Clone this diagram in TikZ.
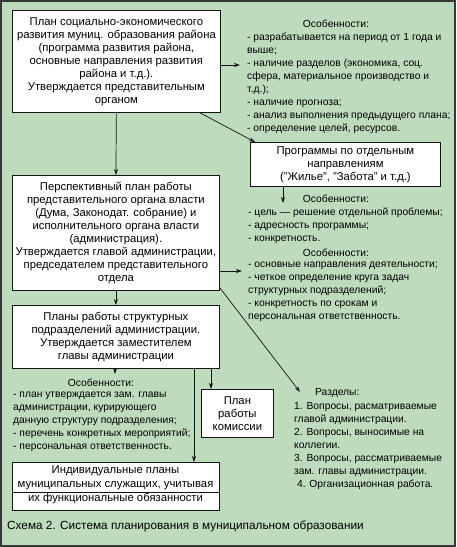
\documentclass[tikz,border=0pt]{standalone}
\usepackage{fontspec}
\setmainfont{Liberation Sans}
\usetikzlibrary{arrows.meta,calc}
\definecolor{bg}{RGB}{190,219,190}
\definecolor{ln}{RGB}{20,20,20}
\begin{document}
\begin{tikzpicture}[x=1pt,y=-1pt,
  box/.style={draw=ln,fill=white,line width=0.8pt,align=center,inner sep=0pt,
    font=\fontsize{11.3}{13}\selectfont,anchor=north west},
  note/.style={align=left,inner sep=0pt,font=\fontsize{10.3}{13}\selectfont,anchor=north west},
  head/.style={inner sep=0pt,font=\fontsize{10.3}{13}\selectfont,anchor=north},
  arr/.style={draw=ln,line width=0.7pt,-{Stealth[length=6pt,width=4pt]}},
  conn/.style={draw=ln,line width=0.7pt}]
\useasboundingbox (0,0) rectangle (456,547);
\draw[fill=bg,draw=ln!85,line width=2pt] (1,1) rectangle (455,546);

% boxes
\node[box,minimum width=208pt,minimum height=102pt] (b1) at (12,10)
 {План социально-экономического\\развития муниц. образования района\\(программа развития района,\\основные направления развития\\района и т.д.).\\Утверждается представительным\\органом};
\node[box,minimum width=190pt,minimum height=44pt] (prog) at (250,142)
 {Программы по отдельным\\направлениям\\("Жилье", "Забота" и т.д.)};
\node[box,minimum width=207pt,minimum height=115pt] (b2) at (12,175)
 {Перспективный план работы\\представительного органа власти\\(Дума, Законодат. собрание) и\\исполнительного органа власти\\(администрация).\\Утверждается главой администрации,\\председателем представительного\\отдела};
\node[box,minimum width=207pt,minimum height=63pt] (b3) at (12,305)
 {Планы работы структурных\\подразделений администрации.\\Утверждается заместителем\\главы администрации};
\node[box,minimum width=72pt,minimum height=48pt] (plan) at (201,389)
 {План\\работы\\комиссии};
\node[box,minimum width=207pt,minimum height=48pt] (b4) at (12,462) {};
\node[inner sep=0pt,font=\fontsize{11.3}{14}\selectfont,align=center,anchor=north] (b4t) at (115.5,465.5)
 {Индивидуальные планы\\муниципальных служащих, учитывая\\их функциональные обязанности};
\draw[conn] (b4.west |- 0,492) coordinate (b4l) -- (b4.east |- b4l);

% notes
\node[head] (h1) at (336,20) {Особенности:};
\node[note] (n1) at (247,33)
 {- разрабатывается на период от 1 года и\\выше;\\- наличие разделов (экономика, соц.\\сфера, материальное производство и\\т.д.);\\- наличие прогноза;\\- анализ выполнения предыдущего плана;\\- определение целей, ресурсов.};
\node[head] (h2) at (336,195) {Особенности:};
\node[note] (n2) at (248,208)
 {- цель — решение отдельной проблемы;\\- адресность программы;\\- конкретность.};
\node[head] (h3) at (336,249) {Особенности:};
\node[note] (n3) at (248,262)
 {- основные направления деятельности;\\- четкое определение круга задач\\структурных подразделений;\\- конкретность по срокам и\\персональная ответственность.};
\node[head] (h4) at (101,379) {Особенности:};
\node[note] (n4) at (13,392)
 {- план утверждается зам. главы\\администрации, курирующего\\данную структуру подразделения;\\- перечень конкретных мероприятий;\\- персональная ответственность.};
\node[note] (h5) at (315,388) {Разделы:};
\node[note] (n5) at (294,402)
 {1. Вопросы, расматриваемые\\главой администрации.\\2. Вопросы, выносимые на\\коллегии.\\3. Вопросы, рассматриваемые\\зам. главы администрации.\\\ 4. Организационная работа.};
\node[inner sep=0pt,anchor=north west,font=\fontsize{11.8}{13}\selectfont] (cap) at (7,521)
 {Схема 2. Система планирования в муниципальном образовании};

% connectors
\coordinate (f1) at (240,65);
\coordinate (f2) at (283,203);
\coordinate (f3) at (242,271);
\coordinate (f4) at (300,392);
\coordinate (f5) at (115,374);
\draw[arr] (b1.south) -- (b2.north);
\draw[arr] (b1.east |- f1) -- (f1);
\draw[arr] ([xshift=188pt]b1.south west) -- ([xshift=5pt]prog.north west);
\draw[arr] (prog.south -| f2) -- (f2);
\draw[arr] (b2.south) -- (b3.north);
\draw[arr] (b2.east |- f3) -- (f3);
\draw[arr] ([yshift=3pt]b2.south east) -- (f4);
\draw[arr] (b3.south -| f5) -- (f5);
\draw[arr] ([xshift=182pt]b3.south west) -- ([xshift=182pt]b3.south west |- b4.north);
\draw[arr] ([xshift=10pt]plan.north west |- b3.south) -- ([xshift=10pt]plan.north west);
\end{tikzpicture}
\end{document}
